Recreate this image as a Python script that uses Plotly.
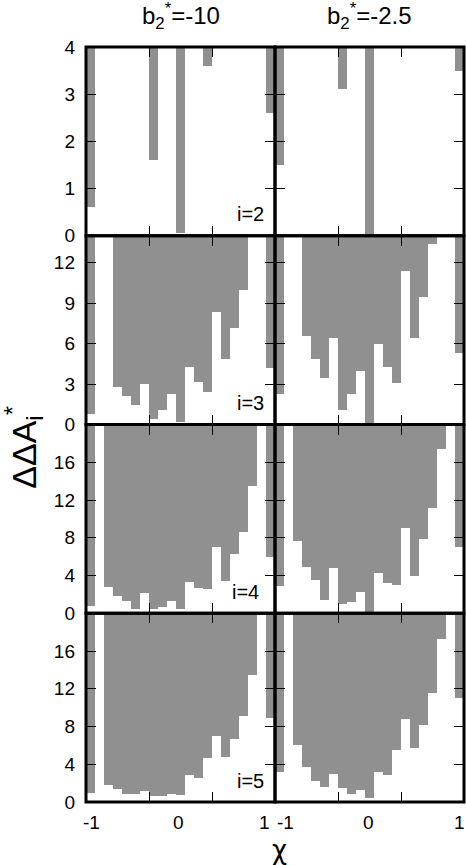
import plotly.graph_objects as go
from plotly.subplots import make_subplots

# chi bins: 21 equal bins between -1 and 1
n_bins = 21
chi_min, chi_max = -1.0, 1.0
bin_w = (chi_max - chi_min) / n_bins
chi = [chi_min + (k + 0.5) * bin_w for k in range(n_bins)]

col_titles = ["b<sub>2</sub><sup>*</sup>=-10", "b<sub>2</sub><sup>*</sup>=-2.5"]
row_labels = ["i=2", "i=3", "i=4", "i=5"]
y_top = [4, 14, 20, 20]
y_ticks = [[0, 1, 2, 3, 4], [0, 3, 6, 9, 12], [0, 4, 8, 12, 16], [0, 4, 8, 12, 16]]
x_ticklabels = ["-1", "0", "1"]

N = None
# lower edge of the gray region in each chi bin (gray goes up to the top, None = empty bin)
i2_b10 = [0.6, N, N, N, N, N, N, 1.6, N, N, 0.06, N, N, 3.6, N, N, N, N, N, N, 2.6]
i2_b25 = [1.5, N, N, N, N, N, N, 3.1, N, N, 0.03, N, N, N, N, N, N, N, N, N, 3.5]
i3_b10 = [0.8, N, N, 2.8, 2.1, 1.5, 3.0, 0.4, 1.1, 2.3, 0.2, 4.3, 3.2, 2.4, 8.4, 4.9, 7.2, 10.0, N, N, 4.2]
i3_b25 = [2.3, N, N, 6.6, 4.9, 3.5, 6.4, 1.1, 2.3, 4.0, 0.0, 6.0, 4.3, 3.1, 11.4, 6.4, 9.5, 13.4, N, N, 5.3]
i4_b10 = [0.8, N, 2.8, 1.9, 1.4, 0.5, 2.2, 0.5, 0.7, 1.3, 0.5, 3.4, 2.7, 2.6, 7.1, 3.5, 6.3, 8.7, 13.5, N, 6.0]
i4_b25 = [2.9, N, 7.7, 5.0, 3.6, 1.5, 4.8, 1.0, 1.2, 2.3, 0.1, 4.3, 3.3, 3.0, 9.1, 4.0, 7.9, 11.2, 17.5, N, 7.1]
i5_b10 = [0.9, N, 1.8, 1.3, 0.8, 0.8, 1.1, 0.6, 0.6, 0.8, 0.7, 2.8, 2.5, 4.6, 7.0, 4.7, 6.6, 9.1, 13.4, N, 8.9]
i5_b25 = [3.2, N, 6.0, 3.7, 2.2, 1.6, 2.9, 1.5, 0.8, 1.2, 0.4, 3.1, 2.8, 5.5, 8.8, 5.7, 8.1, 11.5, 17.2, N, 11.0]

panels = [[i2_b10, i2_b25], [i3_b10, i3_b25], [i4_b10, i4_b25], [i5_b10, i5_b25]]

FONT = "Liberation Sans, Arial, sans-serif"
GRAY = "#909090"

fig = make_subplots(rows=4, cols=2, horizontal_spacing=0, vertical_spacing=0)

for r in range(4):
    top = y_top[r]
    for c in range(2):
        low = panels[r][c]
        fig.add_trace(go.Bar(
            x=chi,
            y=[None if v is None else top - v for v in low],
            base=low,
            width=bin_w,
            marker=dict(color=GRAY, line=dict(width=0)),
            showlegend=False,
            hoverinfo="skip",
        ), row=r + 1, col=c + 1)

        fig.update_xaxes(
            range=[chi_min, chi_max], tickvals=[-1 / 3, 1 / 3], showticklabels=False,
            ticks="inside", ticklen=10, tickwidth=1, tickcolor="black",
            mirror="ticks", showline=False, showgrid=False, zeroline=False,
            row=r + 1, col=c + 1)
        fig.update_yaxes(
            range=[0, top], tickvals=y_ticks[r], showticklabels=(c == 0),
            ticks="inside", ticklen=10, tickwidth=1, tickcolor="black",
            mirror="ticks", showline=False, showgrid=False, zeroline=False,
            tickfont=dict(family=FONT, size=19, color="black"), ticklabelstandoff=10,
            row=r + 1, col=c + 1)

        # panel frame
        k = r * 2 + c + 1
        sx = "x" if k == 1 else f"x{k}"
        sy = "y" if k == 1 else f"y{k}"
        fig.add_shape(type="rect", xref=f"{sx} domain", yref=f"{sy} domain",
                      x0=0, x1=1, y0=0, y1=1, line=dict(color="black", width=3))

        if c == 0:
            fig.add_annotation(text=row_labels[r], xref=f"{sx} domain", yref=f"{sy} domain",
                               x=0.955 if r != 2 else 0.925, y=0.045,
                               xanchor="right", yanchor="bottom", showarrow=False,
                               font=dict(family=FONT, size=20, color="black"))

# x tick labels under the bottom row
xlab_pos = [[0.03, 0.487, 0.947], [0.058, 0.497, 0.975]]
for c in range(2):
    k = 6 + c + 1
    for t, xp in zip(x_ticklabels, xlab_pos[c]):
        fig.add_annotation(text=t, xref=f"x{k} domain", yref="paper", x=xp, y=-0.027,
                           xanchor="center", yanchor="middle", showarrow=False,
                           font=dict(family=FONT, size=19, color="black"))

# column titles
for c in range(2):
    fig.add_annotation(text=col_titles[c], xref="x domain" if c == 0 else "x2 domain", yref="paper",
                       x=0.5, y=1.041, xanchor="center", yanchor="middle", showarrow=False,
                       font=dict(family=FONT, size=24, color="black"))

fig.add_annotation(text="ΔΔA<sub>i</sub><sup>*</sup>", xref="paper", yref="paper",
                   x=-0.165, y=0.47, textangle=-90, xanchor="center", yanchor="middle",
                   showarrow=False, font=dict(family=FONT, size=34, color="black"))
fig.add_annotation(text="χ", xref="paper", yref="paper", x=0.513, y=-0.064,
                   xanchor="center", yanchor="middle", showarrow=False,
                   font=dict(family="DejaVu Sans, sans-serif", size=26, color="black"))

fig.update_layout(
    width=466, height=865,
    margin=dict(l=86, r=2, t=47, b=63),
    bargap=0,
    plot_bgcolor="white",
    paper_bgcolor="white",
    font=dict(family=FONT, color="black"),
)

fig.write_html("out.html", config={"displayModeBar": False},
               post_script="document.body.style.margin='0';")
